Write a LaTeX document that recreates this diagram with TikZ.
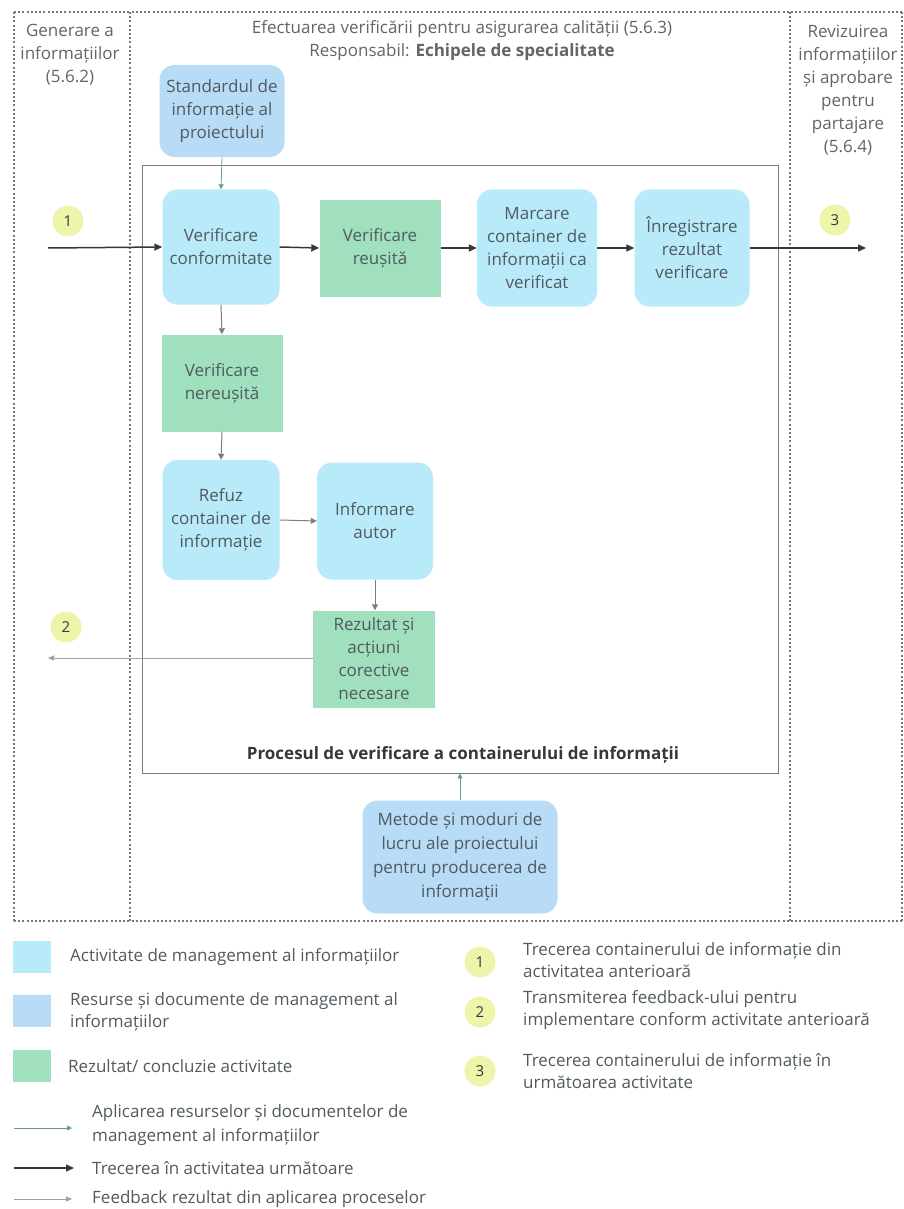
\documentclass[tikz,border=0pt]{standalone}
\usepackage{fontspec}
\setmainfont{Open Sans}
\usetikzlibrary{arrows.meta}
\definecolor{actfill}{RGB}{184,234,250}
\definecolor{resfill}{RGB}{184,220,246}
\definecolor{outfill}{RGB}{160,224,190}
\definecolor{numfill}{RGB}{238,245,170}
\definecolor{txt}{RGB}{80,90,96}
\definecolor{hdr}{RGB}{100,100,100}
\definecolor{lane}{RGB}{120,120,120}
\definecolor{darkline}{RGB}{55,55,55}
\definecolor{midline}{RGB}{125,125,125}
\definecolor{resline}{RGB}{110,150,150}
\definecolor{fbline}{RGB}{160,160,160}
\tikzset{
  base/.style={font=\fontsize{17}{23}\selectfont, text=txt, align=center, inner sep=2pt},
  actbox/.style={base, fill=actfill, rounded corners=15pt, minimum width=117pt, minimum height=117pt},
  resbox/.style={base, fill=resfill, rounded corners=15pt},
  outbox/.style={base, fill=outfill, minimum width=121pt, minimum height=97pt},
  numdot/.style={circle, fill=numfill, minimum size=31pt, inner sep=0pt, text=darkline,
    font=\fontsize{15}{16}\selectfont},
  hdrtext/.style={base, text=hdr},
  legtext/.style={font=\fontsize{17}{22}\selectfont, text=txt, align=left, anchor=west, inner sep=0pt},
  lanerule/.style={draw=lane, line width=1.6pt, dash pattern=on 2pt off 2.2pt},
  nextarrow/.style={draw=darkline, line width=1.5pt, -{Triangle[length=8pt,width=7pt]}},
  steparrow/.style={draw=midline, line width=1pt, -{Triangle[length=6pt,width=6pt]}},
  resarrow/.style={draw=resline, line width=0.8pt, -{Triangle[length=5pt,width=5pt]}},
  fbarrow/.style={draw=fbline, line width=0.9pt, -{Triangle[length=6pt,width=5pt]}},
}
\begin{document}
\begin{tikzpicture}[x=1pt,y=-1pt]
\useasboundingbox (0,0) rectangle (904,1209);

% swimlane frame
\draw[lanerule] (14,12) -- (904,12);
\draw[lanerule] (14,921) -- (904,921);
\draw[lanerule] (14,12) -- (14,921);
\draw[lanerule] (130,12) -- (130,921);
\draw[lanerule] (790,12) -- (790,921);
\draw[lanerule] (902,12) -- (902,921);

% lane headings
\node[hdrtext] (h1) at (70,55) {Generare a\\informațiilor\\(5.6.2)};
\node[hdrtext] (h2) at (462,41) {Efectuarea verificării pentru asigurarea calității (5.6.3)\\Responsabil: \textbf{Echipele de specialitate}};
\node[hdrtext] (h3) at (848,90) {Revizuirea\\informațiilor\\și aprobare\\pentru\\partajare\\(5.6.4)};

% process frame
\node[draw=midline, line width=0.9pt, minimum width=636pt, minimum height=608pt, inner sep=0pt] (proc) at (460,469) {};
\node[base, font=\fontsize{17}{23}\selectfont\bfseries, text=darkline] (proclabel) at (463,755) {Procesul de verificare a containerului de informații};

% activities, resources, outcomes
\node[resbox, minimum width=125pt, minimum height=92pt] (std) at (222,111) {Standardul de\\informație al\\proiectului};
\node[actbox, minimum height=115pt] (vc) at (221,247) {Verificare\\conformitate};
\node[outbox] (vr) at (380,248) {Verificare\\reușită};
\node[actbox, minimum width=120pt] (mc) at (537,248) {Marcare\\container de\\informații ca\\verificat};
\node[actbox, minimum width=115pt] (ir) at (692,248) {Înregistrare\\rezultat\\verificare};
\node[outbox] (vn) at (222,383) {Verificare\\nereușită};
\node[actbox, minimum height=120pt] (rf) at (221,520) {Refuz\\container de\\informație};
\node[actbox, minimum width=116pt] (ia) at (375,521) {Informare\\autor};
\node[outbox, minimum width=122pt] (rz) at (374,659) {Rezultat și\\acțiuni\\corective\\necesare};
\node[resbox, minimum width=195pt, minimum height=113pt, font=\fontsize{17}{24}\selectfont] (mt) at (460,857) {Metode și moduri de\\lucru ale proiectului\\pentru producerea de\\informații};

% flow end points
\coordinate (inflow) at (48,248);
\coordinate (outflow) at (866,248);
\coordinate (backflow) at (48,658);

% numbered markers
\node[numdot] (n1) at (68,221) {1};
\node[numdot] (n2) at (66,627) {2};
\node[numdot] (n3) at (835,220) {3};

% connectors
\draw[nextarrow] (inflow) -- (vc.west);
\draw[resarrow] (std.south) -- (vc.north);
\draw[nextarrow] (vc.east) -- (vr.west);
\draw[nextarrow] (vr.east) -- (mc.west);
\draw[nextarrow] (mc.east) -- (ir.west);
\draw[nextarrow] (ir.east) -- (outflow);
\draw[steparrow] (vc.south) -- (vn.north);
\draw[steparrow] (vn.south) -- (rf.north);
\draw[steparrow] (rf.east) -- (ia.west);
\draw[steparrow] (ia.south) -- (ia.south |- rz.north);
\draw[fbarrow] (rz.west |- backflow) -- (backflow);
\draw[resarrow] (mt.north) -- (mt.north |- proc.south);

% legend: colours
\node[fill=actfill, minimum width=38pt, minimum height=32pt, inner sep=0pt] (k1) at (32,957) {};
\node[fill=resfill, minimum width=38pt, minimum height=32pt, inner sep=0pt] (k2) at (32,1011) {};
\node[fill=outfill, minimum width=38pt, minimum height=32pt, inner sep=0pt] (k3) at (32,1066) {};
\node[legtext] (t1) at (70,957) {Activitate de management al informațiilor};
\node[legtext] (t2) at (70,1012) {Resurse și documente de management al\\informațiilor};
\node[legtext] (t3) at (68,1066) {Rezultat/ concluzie activitate};

% legend: connectors
\coordinate (a1s) at (14,1128); \coordinate (a1e) at (72,1128);
\coordinate (a2s) at (14,1168); \coordinate (a2e) at (74,1168);
\coordinate (a3s) at (14,1199); \coordinate (a3e) at (72,1199);
\draw[resarrow] (a1s) -- (a1e);
\draw[nextarrow] (a2s) -- (a2e);
\draw[fbarrow] (a3s) -- (a3e);
\node[legtext, font=\fontsize{17}{24}\selectfont] (t4) at (92,1125) {Aplicarea resurselor și documentelor de\\management al informațiilor};
\node[legtext] (t5) at (92,1168) {Trecerea în activitatea următoare};
\node[legtext] (t6) at (92,1199) {Feedback rezultat din aplicarea proceselor};

% legend: numbered markers
\node[numdot] (k4) at (480,962) {1};
\node[numdot] (k5) at (480,1012) {2};
\node[numdot] (k6) at (480,1071) {3};
\node[legtext] (t7) at (523,960) {Trecerea containerului de informație din\\activitatea anterioară};
\node[legtext] (t8) at (523,1010) {Transmiterea feedback-ului pentru\\implementare conform activitate anterioară};
\node[legtext] (t9) at (523,1071) {Trecerea containerului de informație în\\următoarea activitate};
\end{tikzpicture}
\end{document}
